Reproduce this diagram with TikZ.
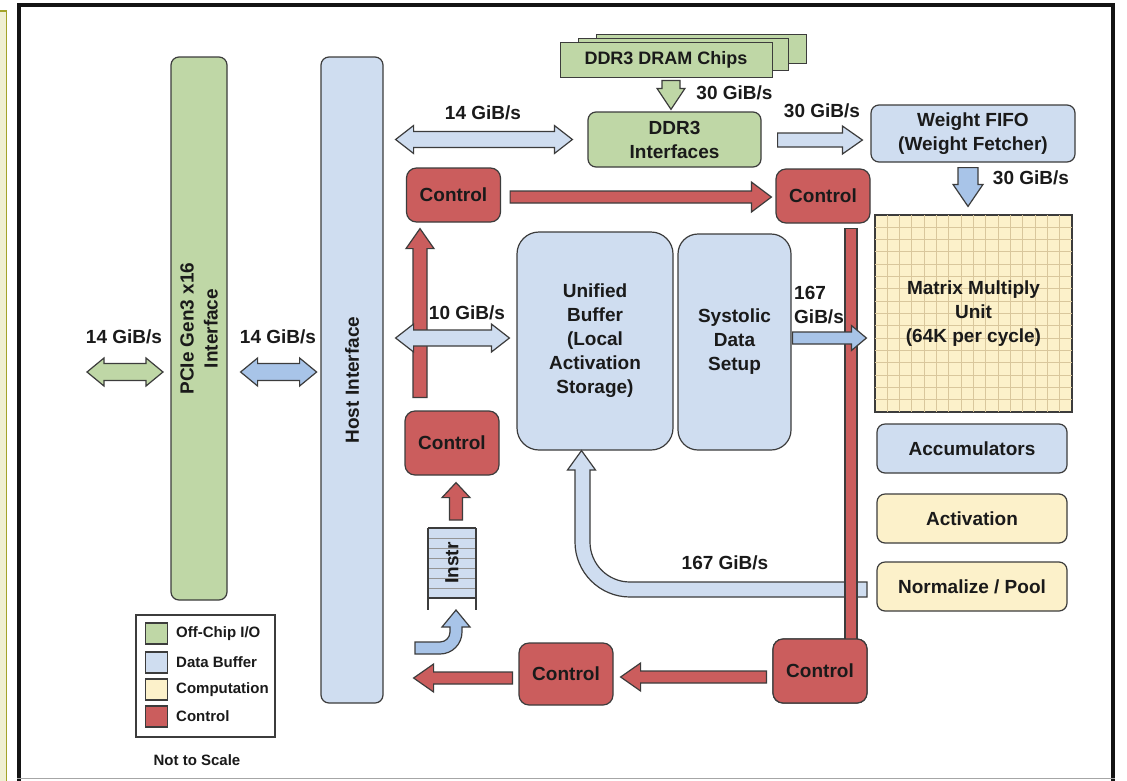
\documentclass[tikz,border=0pt]{standalone}
\usepackage{fontspec}
\setmainfont{Liberation Sans}
\usetikzlibrary{calc}
\definecolor{offchip}{HTML}{BFD7A6}
\definecolor{buf}{HTML}{CFDDF0}
\definecolor{bufmid}{HTML}{A8C4E8}
\definecolor{comp}{HTML}{FCF1CA}
\definecolor{ctrl}{HTML}{CB5D5D}
\definecolor{edge}{HTML}{3C3C3C}
\definecolor{gridln}{HTML}{D9C79C}
\definecolor{strip}{HTML}{EFEFD2}
\definecolor{stripedge}{HTML}{A3A32A}
\definecolor{ink}{HTML}{1A1A1A}

\tikzset{
  ashaft/.store in=\ashaft, ahead/.store in=\ahead, alen/.store in=\alen,
  ashaft=6pt, ahead=14pt, alen=18pt,
  % single block arrow from start to target
  blk/.style={to path={let \p1=(\tikztostart), \p2=(\tikztotarget),
      \p3=($(\p2)!\alen!(\p1)$) in
      ($(\p1)!\ashaft!90:(\p2)$) -- ($(\p3)!\ashaft!90:(\p2)$) -- ($(\p3)!\ahead!90:(\p2)$)
      -- (\p2) -- ($(\p3)!\ahead!-90:(\p2)$) -- ($(\p3)!\ashaft!-90:(\p2)$)
      -- ($(\p1)!\ashaft!-90:(\p2)$) -- cycle}},
  % double-headed block arrow
  dblk/.style={to path={let \p1=(\tikztostart), \p2=(\tikztotarget),
      \p3=($(\p2)!\alen!(\p1)$), \p4=($(\p1)!\alen!(\p2)$) in
      (\p1) -- ($(\p4)!\ahead!90:(\p2)$) -- ($(\p4)!\ashaft!90:(\p2)$)
      -- ($(\p3)!\ashaft!90:(\p2)$) -- ($(\p3)!\ahead!90:(\p2)$) -- (\p2)
      -- ($(\p3)!\ahead!-90:(\p2)$) -- ($(\p3)!\ashaft!-90:(\p2)$)
      -- ($(\p4)!\ashaft!-90:(\p2)$) -- ($(\p4)!\ahead!-90:(\p2)$) -- cycle}},
}

\begin{document}
\begin{tikzpicture}[x=1pt,y=-1pt,
  every node/.style={font=\bfseries\fontsize{19}{24}\selectfont, text=ink},
  box/.style={draw=edge, line width=1.2pt, rounded corners=8pt, inner sep=0pt, align=center},
  offbox/.style={box, fill=offchip},
  bufbox/.style={box, fill=buf},
  compbox/.style={box, fill=comp},
  ctrlbox/.style={box, fill=ctrl, rounded corners=10pt, minimum width=94, minimum height=56},
  lbl/.style={inner sep=0pt},
  legtxt/.style={inner sep=0pt, anchor=west, font=\bfseries\fontsize{15}{18}\selectfont},
  swatch/.style={draw=edge, line width=1.2pt, minimum width=22, minimum height=21, inner sep=0pt},
  arr/.style={draw=edge, line width=1.2pt, line join=miter},
  redarr/.style={arr, fill=ctrl},
  bufarr/.style={arr, fill=buf},
  midarr/.style={arr, fill=bufmid},
  offarr/.style={arr, fill=offchip},
]
\useasboundingbox (0,0) rectangle (1127,780);
\clip (0,0) rectangle (1127,780);
\fill[white] (0,0) rectangle (1127,780);

% page edge strip and outer frame
\fill[strip] (-5,11) rectangle (6.5,790);
\draw[stripedge, line width=1.5pt] (-5,11) -- (6.5,11) -- (6.5,790);
\draw[black!92, line width=4pt] (19,790) -- (19,5) -- (1113,5) -- (1113,790);
\draw[black!35, line width=1.5pt] (17,778.5) -- (1115,778.5);

% interfaces on the left
\node[offbox, rotate=90, minimum width=543, minimum height=56] (pcie) at (199,328.5)
  {PCIe Gen3 x16\\Interface};
\node[bufbox, rotate=90, minimum width=646, minimum height=62] (host) at (352,380)
  {Host Interface};

% DRAM chips (stacked)
\draw[arr, fill=offchip, line width=1pt] (596,34) rectangle (806,63);
\draw[arr, fill=offchip, line width=1pt] (578,38) rectangle (788,70);
\node[offbox, rounded corners=0pt, minimum width=212, minimum height=35,
  font=\bfseries\fontsize{18}{22}\selectfont, line width=1pt] (chips) at (666,59.5) {DDR3 DRAM Chips};

\node[offbox, minimum width=173, minimum height=55] (ddr) at (674.5,139.5) {DDR3\\Interfaces};
\node[bufbox, minimum width=204, minimum height=57] (wfifo) at (973,133.5) {Weight FIFO\\(Weight Fetcher)};

% matrix multiply unit
\node[draw=edge, fill=comp, line width=1.2pt, minimum width=197, minimum height=197, inner sep=0pt]
  (mmu) at (973.5,313.5) {};
\foreach \i in {1,...,15} {
  \draw[gridln, line width=0.9pt] ({875+\i*12.3125},215) -- ({875+\i*12.3125},412);
  \draw[gridln, line width=0.9pt] (875,{215+\i*12.3125}) -- (1072,{215+\i*12.3125});
}
\draw[edge, line width=1.2pt] (mmu.north west) rectangle (mmu.south east);
\node[lbl, align=center] (mmutext) at (mmu.center) {Matrix Multiply\\Unit\\(64K per cycle)};

% buffers
\node[bufbox, rounded corners=22pt, minimum width=156, minimum height=218] (ub) at (595,341)
  {Unified\\Buffer\\(Local\\Activation\\Storage)};
\node[bufbox, rounded corners=20pt, minimum width=113, minimum height=216] (sds) at (734.5,342)
  {Systolic\\Data\\Setup};

% computation blocks
\node[bufbox, minimum width=190, minimum height=49] (acc) at (972,448.5) {Accumulators};
\node[compbox, minimum width=190, minimum height=49] (act) at (972,518.5) {Activation};
\node[compbox, minimum width=190, minimum height=49] (norm) at (972,586.5) {Normalize / Pool};

% control units
\node[ctrlbox, minimum height=54] (c1) at (453.5,195) {Control};
\node[ctrlbox, minimum height=54] (c2) at (823,196) {Control};
\node[ctrlbox, minimum height=64] (c3) at (452,443) {Control};
\node[ctrlbox, minimum height=64] (c4) at (820,671) {Control};
\node[ctrlbox, minimum height=62] (c5) at (566,674) {Control};

% instruction buffer
\fill[buf] (428,528) rectangle (476,598);
\foreach \yy in {538,548,...,588}
  \draw[edge!55, line width=0.8pt] (428,\yy) -- (476,\yy);
\draw[edge, line width=1.2pt] (428,528) -- (476,528) (428,598) -- (476,598);
\draw[edge, line width=1.2pt] (428,528) -- (428,610) (476,528) -- (476,610);
\node[lbl, rotate=90] (instr) at (452,563) {Instr};
\coordinate (instrtop) at (452,528);
\coordinate (instrbot) at (456,610);

% off-chip and host links
\coordinate (extL) at (87,372);
\coordinate (extR) at (163,372);
\draw[offarr, ashaft=8.5pt, ahead=14pt, alen=17pt] (extL) to[dblk] (extR);
\draw[midarr, ashaft=8.5pt, ahead=14pt, alen=17pt]
  ($(host.south)+(-143,-8)$) to[dblk] ($(host.south)+(-67,-8)$);

% host <-> DDR3 and host <-> unified buffer
\draw[bufarr, ashaft=8pt, ahead=14pt, alen=18pt]
  ($(host.south |- ddr.west)+(12,0)$) to[dblk] ($(ddr.west)+(-15,0)$);

% DRAM -> DDR3 interfaces -> weight FIFO -> matrix unit
\draw[offarr, ashaft=9pt, ahead=14pt, alen=21pt]
  ($(chips.south)+(5,3)$) to[blk] ($(ddr.north)+(-3.5,-2)$);
\draw[bufarr, ashaft=7pt, ahead=14pt, alen=20pt]
  ($(ddr.east)+(16,0.5)$) to[blk] ($(wfifo.west)+(-8,6.5)$);
\draw[midarr, ashaft=10pt, ahead=15pt, alen=22pt]
  ($(wfifo.south)+(-5,5)$) to[blk] ($(mmu.north)+(-5.5,-8)$);

% control flow
\draw[redarr, ashaft=6pt, ahead=15pt, alen=20pt]
  ($(c1.east)+(9,2)$) to[blk] ($(c2.west)+(-4,1)$);
\draw[redarr, ashaft=7pt, ahead=14pt, alen=20pt]
  ($(c3.north)+(-32,-13)$) to[blk] ($(c1.south)+(-33.5,6)$);
\draw[bufarr, ashaft=8pt, ahead=14pt, alen=18pt]
  ($(host.south)+(12,-42)$) to[dblk] ($(ub.west)+(-7,-3)$);
\draw[redarr, ashaft=6.5pt, ahead=14pt, alen=15pt]
  ($(instrtop)+(4,-8)$) to[blk] ($(c3.south)+(4,7)$);
\draw[midarr] (415,642) -- (440,642) arc[start angle=90, end angle=0, radius=10]
  -- (450,627) -- (442,627) -- (instrbot) -- (470,627) -- (462,627) -- (462,632)
  arc[start angle=0, end angle=90, radius=22] -- (415,654) -- cycle;
\draw[redarr, ashaft=6pt, ahead=14pt, alen=20pt]
  ($(c4.west)+(-6,6)$) to[blk] ($(c5.east)+(7,3)$);
\draw[redarr, ashaft=6pt, ahead=14pt, alen=20pt]
  ($(c5.west)+(-6,4)$) to[blk] ($(host.south |- c5.west)+(30,4)$);

% results path back into the unified buffer
\coordinate (rtail) at (867,589.5);
\coordinate (rtip) at ($(ub.south)+(-13.5,0)$);
\draw[bufarr] ($(rtail)+(0,-7.5)$) -- (630,582) arc[start angle=90, end angle=180, radius=40]
  -- (590,470) -- (595.5,470) -- (rtip) -- (567.5,470) -- (575,470) -- (575,542)
  arc[start angle=180, end angle=90, radius=55] -- ($(rtail)+(0,7.5)$) -- cycle;

% control bus down the right side
\draw[redarr] ($(c2.south)+(22,5)$) rectangle ($(c4.north)+(37,1)$);
\node[ctrlbox, minimum height=64] at (c4) {Control};

% systolic data into the matrix unit
\draw[midarr, ashaft=6pt, ahead=12.5pt, alen=15pt]
  ($(sds.east)+(1,-4)$) to[blk] ($(mmu.west)+(-8,24.5)$);

% bandwidth labels
\node[lbl] (bwext) at (124,337) {14 GiB/s};
\node[lbl] (bwhost) at (278,337) {14 GiB/s};
\node[lbl] (bwddr) at (483,113) {14 GiB/s};
\node[lbl] (bwub) at (467,313) {10 GiB/s};
\node[lbl] (bwdram) at (734.5,93) {30 GiB/s};
\node[lbl] (bwwf) at (822,111) {30 GiB/s};
\node[lbl] (bwmmu) at (1031,178) {30 GiB/s};
\node[lbl, anchor=west, align=left] (bwsds) at (794,305) {167\\GiB/s};
\node[lbl] (bwret) at (725,563) {167 GiB/s};

% legend
\node[draw=edge, fill=white, line width=1.2pt, minimum width=139, minimum height=122, inner sep=0pt]
  (legend) at (205.5,676) {};
\node[swatch, fill=offchip] (sw1) at (156.5,633.5) {};
\node[swatch, fill=buf] (sw2) at (156.5,662.5) {};
\node[swatch, fill=comp] (sw3) at (156.5,689.5) {};
\node[swatch, fill=ctrl] (sw4) at (156.5,716.5) {};
\node[legtxt] (lt1) at (176,633.5) {Off-Chip I/O};
\node[legtxt] (lt2) at (176,662.5) {Data Buffer};
\node[legtxt] (lt3) at (176,689.5) {Computation};
\node[legtxt] (lt4) at (176,716.5) {Control};
\node[lbl, font=\bfseries\fontsize{15}{18}\selectfont] (scale) at (197,760) {Not to Scale};
\end{tikzpicture}
\end{document}
